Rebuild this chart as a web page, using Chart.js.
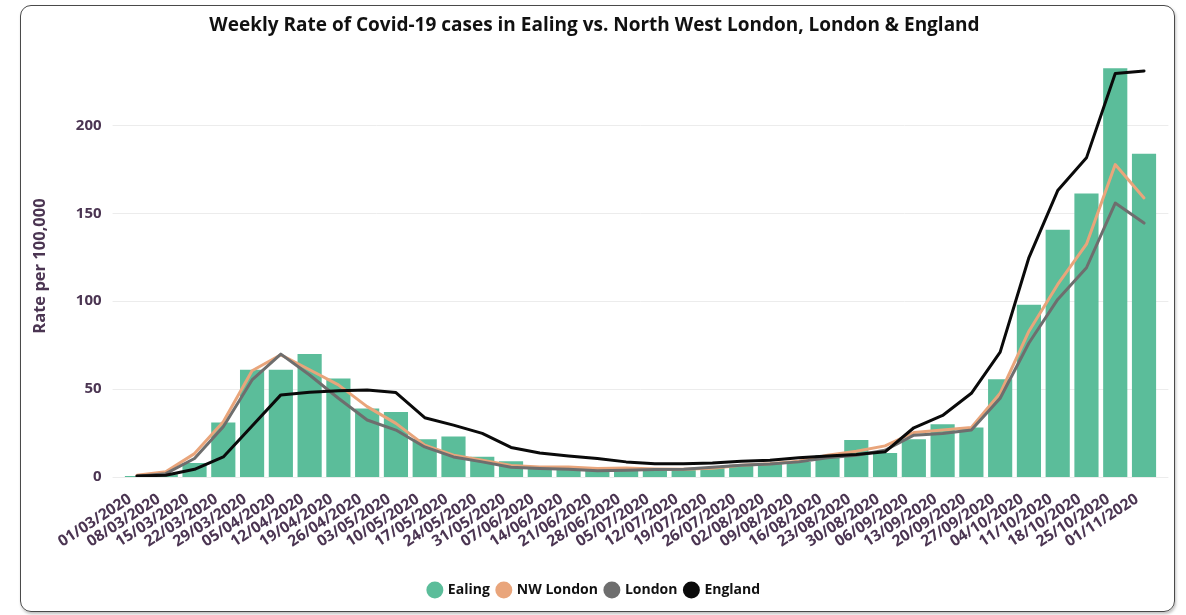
<!DOCTYPE html>
<html>
<head>
<meta charset="utf-8">
<script src="https://cdn.jsdelivr.net/npm/chart.js@4.4.0/dist/chart.umd.min.js"></script>
<style>
  html, body { margin: 0; padding: 0; background: #fff; }
  .card {
    position: absolute; left: 20px; top: 5px; width: 1153px; height: 605px;
    border: 1.5px solid #4a4a4a; border-radius: 11px;
    box-shadow: 1px 2px 3px rgba(0,0,0,0.25);
  }
  #wrap { position: absolute; left: 0; top: 0; width: 1186px; height: 615px; }
</style>
</head>
<body>
<div class="card"></div>
<div id="wrap"><canvas id="covidChart" width="1186" height="615"></canvas></div>
<script>
// --- Week labels ---
const weeks = ["01/03/2020","08/03/2020","15/03/2020","22/03/2020","29/03/2020","05/04/2020","12/04/2020",
  "19/04/2020","26/04/2020","03/05/2020","10/05/2020","17/05/2020","24/05/2020","31/05/2020","07/06/2020",
  "14/06/2020","21/06/2020","28/06/2020","05/07/2020","12/07/2020","19/07/2020","26/07/2020","02/08/2020",
  "09/08/2020","16/08/2020","23/08/2020","30/08/2020","06/09/2020","13/09/2020","20/09/2020","27/09/2020",
  "04/10/2020","11/10/2020","18/10/2020","25/10/2020","01/11/2020"];

// --- Weekly rate per 100,000 ---
const ealing = [0.5, 1.5, 8, 31, 61, 61, 70, 56, 39, 37, 21.5, 23, 11.5, 9, 6.3, 5.7, 4.4, 4.4, 4.8, 5.1,
  5.7, 7, 7.6, 8.6, 12.4, 21, 13.7, 21.5, 30, 28.2, 55.6, 98, 140.6, 161.3, 232.4, 183.8];
const nwLondon = [1, 3, 13.3, 31.4, 60.4, 69.5, 61, 52.4, 40, 30.5, 18.1, 12.4, 9.5, 6.5, 5.7, 5.7, 4.8, 5.1,
  4.6, 4.4, 5, 6.7, 7.6, 9, 12.4, 14.7, 17.7, 25.3, 26.7, 28.2, 47.6, 82.9, 109.5, 132.4, 177.7, 158.7];
const london = [0.5, 1.9, 10.5, 28.6, 55.2, 69.9, 58, 44.8, 32.4, 26.7, 17.1, 11.4, 8.6, 5.5, 4.8, 4.4, 3.6, 3.8,
  4.2, 4.4, 5.5, 6.7, 7.4, 8.6, 10.9, 12.4, 15.2, 23.8, 24.8, 26.7, 44.8, 76.2, 101, 119, 155.8, 144.4];
const england = [0.6, 1, 4.4, 11.4, 29, 46.7, 48.2, 49, 49.5, 48, 33.7, 29.5, 24.8, 16.8, 13.6, 12, 10.5, 8.6,
  7.6, 7.6, 8, 9, 9.5, 10.9, 12, 12.8, 14.3, 28, 35, 47.6, 71, 124.8, 162.9, 181.5, 229.5, 230.9];

const yTicks = [0, 50, 100, 150, 200];

const FONT = "'Open Sans', 'Noto Sans', sans-serif";
const axisColor = '#4b3552';

// --- Horizontal grid lines reaching a bit past the plot, like the original ---
const wideGrid = {
  id: 'wideGrid',
  beforeDatasetsDraw(chart) {
    const { ctx, chartArea, scales } = chart;
    ctx.save();
    ctx.strokeStyle = '#ececec';
    ctx.lineWidth = 1;
    yTicks.forEach(v => {
      const y = Math.round(scales.y.getPixelForValue(v)) + 0.5;
      ctx.beginPath();
      ctx.moveTo(chartArea.left - 10, y);
      ctx.lineTo(chartArea.right + 10, y);
      ctx.stroke();
    });
    ctx.restore();
  }
};

function lineSet(label, data, color, order) {
  return {
    type: 'line', label, data, order,
    borderColor: color, backgroundColor: color,
    borderWidth: 3, pointRadius: 0, tension: 0,
    borderJoinStyle: 'round', borderCapStyle: 'round'
  };
}

const ctx = document.getElementById('covidChart').getContext('2d');
new Chart(ctx, {
  type: 'bar',
  data: {
    labels: weeks,
    datasets: [
      { type: 'bar', label: 'Ealing', data: ealing, order: 3, backgroundColor: '#5bbd9a',
        barPercentage: 0.84, categoryPercentage: 1.0 },
      lineSet('NW London', nwLondon, '#e9a57b', 2),
      lineSet('London', london, '#6e6e6e', 1),
      lineSet('England', england, '#0a0a0a', 0)
    ]
  },
  options: {
    responsive: false,
    animation: false,
    layout: { padding: { left: 30.6, right: 27.6, top: 0, bottom: 8 } },
    plugins: {
      title: {
        display: true,
        text: 'Weekly Rate of Covid-19 cases in Ealing vs. North West London, London & England',
        color: '#111',
        font: { family: FONT, size: 19, weight: '700' },
        padding: { top: 14, bottom: 18.2 }
      },
      legend: {
        position: 'bottom',
        labels: {
          usePointStyle: true, pointStyle: 'circle', boxWidth: 12, boxHeight: 12, padding: 8,
          color: '#111', font: { family: FONT, size: 14, weight: '700' },
          generateLabels: chart => Chart.defaults.plugins.legend.labels.generateLabels(chart)
            .map(l => ({ ...l, lineWidth: 0 })),
          sort: (a, b) => a.datasetIndex - b.datasetIndex
        }
      },
      tooltip: { enabled: false }
    },
    scales: {
      x: {
        offset: true,
        grid: { display: false },
        border: { display: false },
        ticks: {
          autoSkip: false, minRotation: 33, maxRotation: 33, padding: 5, labelOffset: -7,
          color: axisColor, font: { family: FONT, size: 15.5, weight: '700' }
        },
        afterFit: s => { s.height = 98; }
      },
      y: {
        min: 0, max: 240,
        grid: { display: false, drawTicks: false },
        border: { display: false },
        ticks: { stepSize: 50, padding: 21, color: axisColor, font: { family: FONT, size: 15, weight: '700' } },
        afterBuildTicks: s => { s.ticks = s.ticks.filter(t => yTicks.includes(t.value)); },
        afterFit: s => { s.width = 92; },
        title: {
          display: true, text: 'Rate per 100,000', color: axisColor,
          font: { family: FONT, size: 16.5, weight: '700' }, padding: { top: 0, bottom: 0 }
        }
      }
    }
  },
  plugins: [wideGrid]
});
</script>
</body>
</html>
